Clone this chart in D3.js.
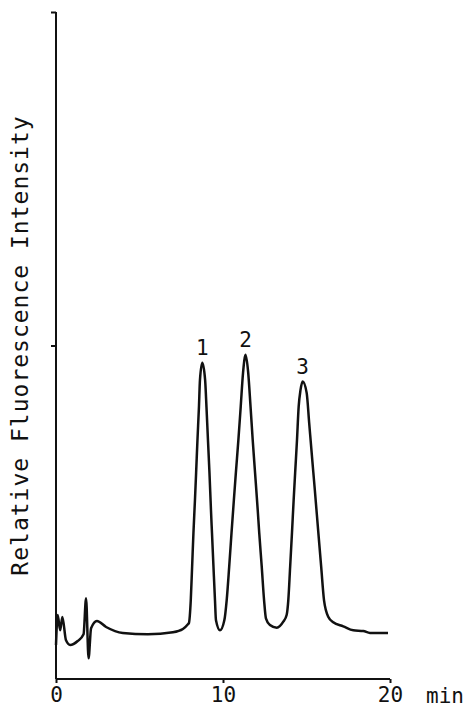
<!DOCTYPE html>
<html lang="en">
<head>
  <meta charset="UTF-8">
  <title>Relative Fluorescence Intensity chromatogram</title>
  <script src="https://d3js.org/d3.v7.min.js"></script>
  <style>
    body { margin: 0; background: #fff; }
    text {
      fill: #111;
      font-family: 'DejaVu Sans Mono', monospace;
    }
    .axis path, .axis line { stroke: #111; stroke-width: 2; }
    .axis text { font-size: 21px; }
  </style>
</head>
<body>
  <svg width="469" height="708"></svg>

  <script>
    // retention time (min) and relative intensity
    const times = [0.00, 0.10, 0.25, 0.38, 0.60, 0.85, 1.30, 1.65, 1.80, 1.95, 2.10, 2.45, 3.00, 4.00, 5.50,
      7.00, 7.60, 7.90, 7.96, 8.07, 8.15, 8.23, 8.32, 8.39, 8.47, 8.56, 8.62, 8.76, 8.93, 9.01, 9.10,
      9.19, 9.28, 9.34, 9.43, 9.52, 9.58, 9.82, 10.08, 10.22, 10.37, 10.51, 10.65, 10.77, 10.92, 11.06,
      11.20, 11.35, 11.51, 11.65, 11.78, 11.92, 12.08, 12.17, 12.32, 12.46, 12.57, 12.81, 13.22, 13.61,
      13.81, 13.91, 14.02, 14.13, 14.23, 14.32, 14.43, 14.53, 14.64, 14.77, 15.01, 15.16, 15.33, 15.50,
      15.71, 15.88, 16.05, 16.31, 16.60, 17.20, 17.80, 18.40, 18.80, 19.88];
    const intensity = [5.1, 9.6, 7.3, 9.3, 5.8, 5.1, 5.7, 6.7, 12.1, 3.1, 7.6, 8.7, 7.8, 6.9, 6.7,
      7.0, 7.5, 8.2, 8.4, 11.8, 16.8, 21.9, 26.8, 30.9, 35.8, 40.8, 44.8, 47.4, 44.8, 40.8, 35.8,
      30.9, 25.3, 21.9, 16.8, 11.8, 8.8, 7.3, 8.8, 11.8, 16.8, 21.9, 26.8, 30.9, 35.8, 40.8,
      45.9, 48.6, 45.9, 40.8, 35.8, 30.9, 25.3, 21.9, 16.8, 11.8, 9.1, 8.1, 7.7, 8.6,
      9.6, 11.8, 16.8, 21.9, 26.8, 30.9, 35.8, 40.8, 43.3, 44.6, 42.9, 38.4, 33.3, 28.3,
      21.9, 16.8, 11.8, 9.3, 8.5, 7.9, 7.3, 7.2, 6.9, 6.9];

    const peakNames = ["1", "2", "3"];
    const peakTimes = [8.76, 11.35, 14.77];
    const peakHeights = [47.4, 48.6, 44.6];

    const xTicks = [0, 10, 20];
    const yTicks = [50, 100];

    const svg = d3.select("svg");
    const margin = { top: 12, right: 79, bottom: 29, left: 56 };
    const width = +svg.attr("width") - margin.left - margin.right;
    const height = +svg.attr("height") - margin.top - margin.bottom;
    const g = svg.append("g").attr("transform", `translate(${margin.left},${margin.top})`);

    // Scales
    const x = d3.scaleLinear().domain([0, 20]).range([0, width]);
    const y = d3.scaleLinear().domain([0, 100]).range([height, 0]);

    // X axis
    const xAxis = g.append("g")
      .attr("class", "axis")
      .attr("transform", `translate(0,${height})`)
      .call(d3.axisBottom(x).tickValues(xTicks).tickSize(4).tickPadding(4).tickFormat(d3.format("d")));
    xAxis.select(".domain").attr("d", `M0,0H${width}`);

    svg.append("text")
      .attr("x", margin.left + width + 36)
      .attr("y", margin.top + height + 24)
      .style("font-size", "21px")
      .text("min");

    // Y axis
    const yAxis = g.append("g")
      .attr("class", "axis")
      .call(d3.axisLeft(y).tickValues(yTicks).tickSize(5).tickFormat(""));
    yAxis.select(".domain").attr("d", `M0,${height}V0`);

    svg.append("text")
      .attr("transform", `translate(28,${margin.top + height / 2}) rotate(-90)`)
      .attr("text-anchor", "middle")
      .style("font-size", "23px")
      .style("letter-spacing", "1px")
      .text("Relative Fluorescence Intensity");

    // Trace
    const trace = times.map((t, i) => ({ t: t, v: intensity[i] }));
    const line = d3.line()
      .x(d => x(d.t))
      .y(d => y(d.v))
      .curve(d3.curveMonotoneX);

    g.append("path")
      .datum(trace)
      .attr("fill", "none")
      .attr("stroke", "#111")
      .attr("stroke-width", 2.5)
      .attr("stroke-linejoin", "round")
      .attr("d", line);

    // Peak numbers
    g.selectAll(".peak")
      .data(peakNames)
      .enter().append("text")
      .attr("class", "peak")
      .attr("x", (d, i) => x(peakTimes[i]))
      .attr("y", (d, i) => y(peakHeights[i]) - 8)
      .attr("text-anchor", "middle")
      .style("font-size", "21px")
      .text(d => d);
  </script>
</body>
</html>
